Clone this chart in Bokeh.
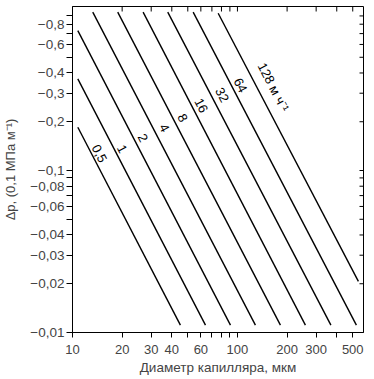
import math
from bokeh.plotting import figure
from bokeh.models import FixedTicker, Range1d
from bokeh.core.properties import value
from bokeh.embed import file_html
from bokeh.resources import INLINE

# Flow velocity labels (m/h)
labels = ["0,5", "1", "2", "4", "8", "16", "32", "64", "128 м ч⁻¹"]
# Line end points (diameter, мкм ; Δp, 0,1 МПа/м)
d_start = [10.77, 10.77, 10.77, 13.27, 18.8, 26.8, 37.8, 53.9, 76.4]
dp_start = [0.185, 0.368, 0.731, 0.949, 0.949, 0.949, 0.949, 0.949, 0.935]
d_end = [45.1, 64.0, 90.7, 128.5, 182.2, 258.2, 368.6, 526.0, 541.0]
dp_end = [0.0111, 0.0111, 0.0111, 0.0111, 0.0111, 0.0111, 0.0111, 0.0111, 0.0207]
# Label positions
label_d = [14.58, 20.0, 26.7, 36.1, 46.6, 60.3, 80.8, 104.3, 165.2]
label_dp = [0.1274, 0.136, 0.159, 0.1835, 0.2115, 0.252, 0.293, 0.336, 0.3267]

x_ticks = [10, 20, 30, 40, 60, 100, 200, 300, 500]
x_tick_labels = ["10", "20", "30", "40", "60", "100", "200", "300", "500"]
x_minor = [50, 70, 80, 90, 400]
y_ticks = [0.01, 0.02, 0.03, 0.04, 0.06, 0.08, 0.1, 0.2, 0.3, 0.4, 0.6, 0.8]
y_tick_labels = ["−0,01", "−0,02", "−0,03", "−0,04", "−0,06", "−0,08",
                 "−0,1", "−0,2", "−0,3", "−0,4", "−0,6", "−0,8"]
y_minor = [0.05, 0.07, 0.09, 0.5, 0.7, 0.9]

X_MIN, X_MAX = 10, 581
Y_MIN, Y_MAX = 0.01, 1.029
FONT = "Liberation Sans"

p = figure(width=374, height=379, x_axis_type="log", y_axis_type="log",
           x_range=Range1d(X_MIN, X_MAX), y_range=Range1d(Y_MIN, Y_MAX),
           output_backend="svg", toolbar_location=None,
           min_border_left=72, min_border_right=11, min_border_top=6, min_border_bottom=47,
           x_axis_label="Диаметр капилляра, мкм",
           y_axis_label="Δp, (0,1 МПа м⁻¹)")
p.grid.visible = False
p.outline_line_color = "black"
p.outline_line_width = 1
p.background_fill_color = "white"
p.border_fill_color = "white"

p.segment(x0=d_start, y0=dp_start, x1=d_end, y1=dp_end, line_color="black", line_width=1.4)
p.text(x=label_d, y=label_dp, text=labels, angle=-1.093,
       text_align="center", text_baseline="middle",
       text_font=value(FONT), text_font_size="13px", text_color="black")

# inner ticks on top and right frame edges
all_x = x_ticks + x_minor
all_y = y_ticks + y_minor
p.ray(x=all_x, y=[Y_MAX] * len(all_x), length=5, length_units="screen",
      angle=-math.pi / 2, line_color="black", line_width=1)
p.ray(x=[X_MAX] * len(all_y), y=all_y, length=4, length_units="screen",
      angle=math.pi, line_color="black", line_width=1)

xa = p.xaxis[0]
xa.ticker = FixedTicker(ticks=x_ticks, minor_ticks=x_minor)
xa.major_label_overrides = {t: l for t, l in zip(x_ticks, x_tick_labels)}
xa.major_tick_out = 5
xa.major_tick_in = 0
xa.minor_tick_out = 5
xa.minor_tick_in = 0
xa.minor_tick_line_color = "black"
xa.major_label_standoff = 7
xa.axis_label_standoff = 3
xa.major_label_text_font = FONT
xa.major_label_text_font_size = "13px"
xa.axis_label_text_font = FONT
xa.axis_label_text_font_size = "13.5px"
xa.axis_label_text_font_style = "normal"
xa.axis_line_color = "black"

ya = p.yaxis[0]
ya.ticker = FixedTicker(ticks=y_ticks, minor_ticks=y_minor)
ya.major_label_overrides = {t: l for t, l in zip(y_ticks, y_tick_labels)}
ya.major_tick_out = 6
ya.major_tick_in = 0
ya.minor_tick_out = 6
ya.minor_tick_in = 0
ya.minor_tick_line_color = "black"
ya.major_label_standoff = 2
ya.axis_label_standoff = 9
ya.major_label_text_font = FONT
ya.major_label_text_font_size = "13.5px"
ya.axis_label_text_font = FONT
ya.axis_label_text_font_size = "13px"
ya.axis_label_text_font_style = "normal"
ya.axis_line_color = "black"

open("out.html", "w").write(file_html(p, INLINE))
